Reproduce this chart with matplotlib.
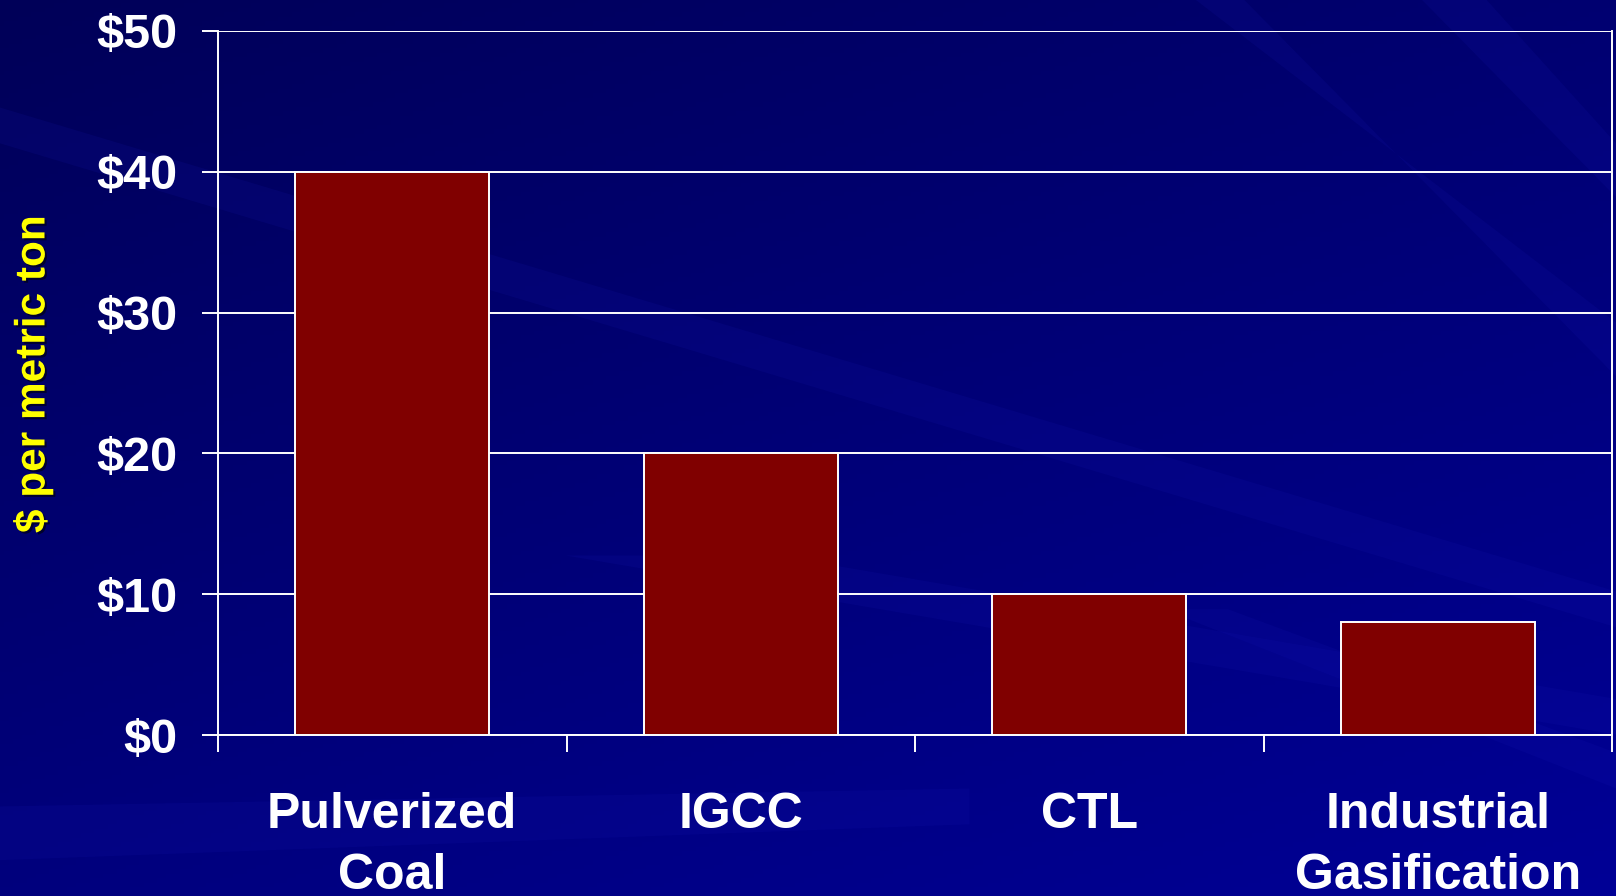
import numpy as np
import matplotlib
matplotlib.use("Agg")
import matplotlib.pyplot as plt
import matplotlib.patheffects as pe
from matplotlib.patches import Polygon

# data
categories = ["Pulverized\nCoal", "IGCC", "CTL", "Industrial\nGasification"]
costs = [40, 20, 10, 8]
y_ticks = [0, 10, 20, 30, 40, 50]
y_labels = ["$0", "$10", "$20", "$30", "$40", "$50"]

plt.rcParams["font.family"] = ["Liberation Sans", "DejaVu Sans"]
plt.rcParams["font.weight"] = "bold"

fig = plt.figure(figsize=(16.16, 8.96), dpi=100)

# background: dark blue gradient with a few soft diagonal streaks
bg = fig.add_axes([0, 0, 1, 1], zorder=-10)
yy, xx = np.mgrid[0:1:200j, 0:1:360j]
t = 0.6 * yy + 0.4 * xx
img = np.zeros((200, 360, 3))
img[..., 2] = (88 + 62 * t) / 255.0
bg.imshow(img, extent=[0, 1, 0, 1], aspect="auto", origin="upper")
streaks = [
    [(0.72, 0.32), (0.76, 0.32), (1.0, 0.16), (1.0, 0.12)],
    [(0.35, 0.38), (0.48, 0.38), (1.0, 0.22), (1.0, 0.18)],
    [(0.74, 1.0), (0.77, 1.0), (1.0, 0.58), (1.0, 0.64)],
    [(0.88, 1.0), (0.92, 1.0), (1.0, 0.84), (1.0, 0.78)],
    [(0.0, 0.88), (0.0, 0.84), (1.0, 0.30), (1.0, 0.34)],
    [(0.0, 0.10), (0.0, 0.04), (0.6, 0.08), (0.6, 0.12)],
]
for s in streaks:
    bg.add_patch(Polygon(s, closed=True, facecolor="#1818b8", alpha=0.13,
                         edgecolor="none"))
bg.set_xlim(0, 1)
bg.set_ylim(0, 1)
bg.axis("off")

ax = fig.add_axes([218 / 1616, 1 - 735 / 896, 1394 / 1616, 704 / 896])
ax.set_facecolor("none")

x = np.arange(len(categories))
ax.bar(x, costs, width=0.557, color="#800000", edgecolor="white",
       linewidth=1.4, zorder=3)

ax.set_xlim(-0.5, len(categories) - 0.5)
ax.set_ylim(0, 50)
ax.set_yticks(y_ticks)
ax.set_yticklabels(y_labels)
ax.yaxis.grid(True, color="white", linewidth=1.4, zorder=1)
ax.set_axisbelow(True)

ax.set_xticks(x)
ax.set_xticklabels(categories)
ax.set_xticks(np.arange(len(categories) + 1) - 0.5, minor=True)
ax.tick_params(axis="x", which="major", length=0, pad=41, labelsize=36,
               colors="white")
ax.tick_params(axis="x", which="minor", length=12, width=1.4, color="white")
ax.tick_params(axis="y", length=11.5, width=1.4, pad=18, labelsize=35,
               colors="white")
for lab in ax.get_xticklabels():
    lab.set_linespacing(1.42)

for side in ["left", "right", "bottom"]:
    ax.spines[side].set_color("white")
    ax.spines[side].set_linewidth(1.4)
ax.spines["top"].set_visible(False)

fig.text(33 / 1616, 1 - 374 / 896, "$ per metric ton", rotation=90,
         ha="center", va="center", color="#ffff00", fontsize=30.5,
         fontweight="bold",
         path_effects=[pe.withSimplePatchShadow(offset=(1.5, -1.5),
                                                shadow_rgbFace="#000020",
                                                alpha=0.8)])

fig.savefig("out.png", dpi=100)
